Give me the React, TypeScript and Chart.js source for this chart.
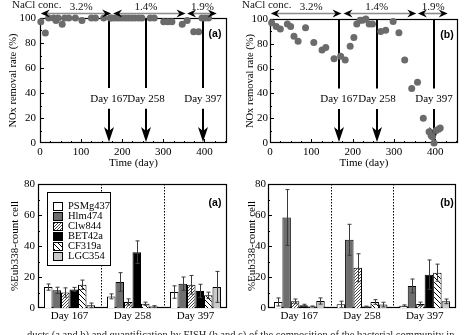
import React, { useEffect, useRef } from "react";
import { Chart, registerables } from "chart.js";
Chart.register(...registerables);

const SERIF = "'Liberation Serif', 'Times New Roman', serif";
const SANS = "'Liberation Sans', Arial, sans-serif";

// ---------- Top panels: NOx removal rate (%) vs time (day)
const daysA = [2, 13, 21, 33, 39, 44, 54, 60, 70, 86, 102, 125, 135, 155, 171, 175, 183, 191, 199, 207, 215, 223, 231, 240, 248, 268, 278, 301, 311, 321, 346, 358, 374, 386, 394, 402, 410];
const removalA = [97, 88, 100, 100, 98, 100, 95, 100, 100, 100, 98, 100, 100, 100, 100, 100, 100, 100, 100, 100, 100, 100, 100, 100, 100, 100, 100, 97, 97, 97, 95, 98, 89, 89, 100, 100, 100];
const daysB = [4, 15, 25, 42, 50, 58, 68, 86, 106, 126, 135, 155, 171, 182, 194, 203, 210, 218, 224, 232, 240, 248, 268, 280, 298, 312, 326, 343, 357, 371, 385, 390, 393, 397, 402, 408, 412];
const removalB = [97, 94, 92, 96, 94, 86, 82, 93, 81, 75, 77, 68, 70, 67, 78, 85, 96, 99, 99, 100, 96, 96, 90, 91, 98, 89, 67, 44, 49, 20, 9, 6, 5, 0, 10, 11, 12];

const phaseStart = [2, 178, 358];
const phaseEnd = [173, 354, 430];
const phaseLabels = ["3.2%", "1.4%", "1.9%"];
const phaseLabelDays = [100, 258, 395];
const sampleDays = [167, 258, 397];
const sampleLabels = ["Day 167", "Day 258", "Day 397"];

// ---------- Bottom panels: FISH quantification (%Eub338-count cell)
const probeNames = ["PSMg437", "Hlm474", "Clw844", "BET42a", "CF319a", "LGC354"];

const psmg437A = [13.5, 7.5, 10.3];
const hlm474A = [11.4, 16.8, 15.7];
const clw844A = [10, 3.9, 15];
const bet42aA = [12, 36, 11];
const cf319aA = [15, 2.8, 8.2];
const lgc354A = [1.7, 1, 13.6];
const psmg437AErr = [2, 1.6, 4];
const hlm474AErr = [2, 6, 4.3];
const clw844AErr = [3, 2, 6];
const bet42aAErr = [1.3, 7.3, 4.3];
const cf319aAErr = [3, 1, 2];
const lgc354AErr = [1.5, 0.5, 10];

const psmg437B = [3.9, 2.4, 1.5];
const hlm474B = [58.4, 44, 14.2];
const clw844B = [4.3, 26, 2.6];
const bet42aB = [1.7, 0.9, 21.5];
const cf319aB = [1, 3.9, 22.8];
const lgc354B = [4.5, 2.2, 4.3];
const psmg437BErr = [2.6, 2, 0.5];
const hlm474BErr = [18, 10, 4.5];
const clw844BErr = [1.5, 9, 1.2];
const bet42aBErr = [0.7, 0.3, 9.5];
const cf319aBErr = [0.3, 1.5, 5.5];
const lgc354BErr = [2, 1.5, 1.5];

// ---------- helpers
function hatch(dir: number, size: number, color: string, lw: number) {
  const c = document.createElement("canvas");
  c.width = size;
  c.height = size;
  const g = c.getContext("2d")!;
  g.fillStyle = "#fff";
  g.fillRect(0, 0, size, size);
  g.strokeStyle = color;
  g.lineWidth = lw;
  g.beginPath();
  if (dir > 0) {
    g.moveTo(0, size); g.lineTo(size, 0);
    g.moveTo(-2, 2); g.lineTo(2, -2);
    g.moveTo(size - 2, size + 2); g.lineTo(size + 2, size - 2);
  } else {
    g.moveTo(0, 0); g.lineTo(size, size);
    g.moveTo(-2, size - 2); g.lineTo(2, size + 2);
    g.moveTo(size - 2, -2); g.lineTo(size + 2, 2);
  }
  g.stroke();
  return g.createPattern(c, "repeat");
}

function hHead(ctx: CanvasRenderingContext2D, x: number, y: number, dir: number) {
  ctx.beginPath();
  ctx.moveTo(x, y);
  ctx.lineTo(x - dir * 9, y - 4);
  ctx.lineTo(x - dir * 6, y);
  ctx.lineTo(x - dir * 9, y + 4);
  ctx.closePath();
  ctx.fill();
}

function scatterDecor(p: { labelDx: number; naclX: number; panel: string }) {
  return {
    id: "scatterDecor",
    beforeDatasetsDraw(chart: any) {
      const { ctx, chartArea: a, scales } = chart;
      const xs = scales.x, ys = scales.y;
      ctx.save();
      ctx.strokeStyle = "#000";
      ctx.lineWidth = 1.2;
      ctx.strokeRect(a.left + 0.5, a.top + 0.5, a.right - a.left - 1, a.bottom - a.top - 1);
      ctx.lineWidth = 1;
      ctx.beginPath();
      for (let v = 10; v < 100; v += 10) {
        const y = Math.round(ys.getPixelForValue(v)) + 0.5;
        const len = v % 20 === 0 ? 4 : 2;
        ctx.moveTo(a.left, y); ctx.lineTo(a.left + len, y);
      }
      for (let d = 25; d <= 450; d += 25) {
        const x = Math.round(xs.getPixelForValue(d)) + 0.5;
        const len = d % 100 === 0 ? 4 : 2;
        ctx.moveTo(x, a.bottom); ctx.lineTo(x, a.bottom - len);
      }
      ctx.stroke();
      ctx.fillStyle = "#000";
      ctx.strokeStyle = "#000";
      ctx.lineWidth = 2;
      ctx.font = `11px ${SERIF}`;
      ctx.textAlign = "center";
      ctx.textBaseline = "middle";
      sampleDays.forEach((d, i) => {
        const x = Math.round(xs.getPixelForValue(d));
        ctx.beginPath();
        ctx.moveTo(x, a.top);
        ctx.lineTo(x, ys.getPixelForValue(44));
        ctx.stroke();
        ctx.fillText(sampleLabels[i], x, ys.getPixelForValue(35.5));
        const tip = a.bottom - 1;
        ctx.beginPath();
        ctx.moveTo(x, ys.getPixelForValue(27.5));
        ctx.lineTo(x, tip - 9);
        ctx.stroke();
        ctx.beginPath();
        ctx.moveTo(x, tip);
        ctx.lineTo(x - 5, tip - 15);
        ctx.lineTo(x, tip - 11);
        ctx.lineTo(x + 5, tip - 15);
        ctx.closePath();
        ctx.fill();
      });
      ctx.restore();
    },
    afterDraw(chart: any) {
      const { ctx, chartArea: a, scales } = chart;
      const xs = scales.x;
      ctx.save();
      ctx.fillStyle = "#111";
      ctx.font = `11px ${SERIF}`;
      ctx.textAlign = "left";
      ctx.textBaseline = "alphabetic";
      ctx.fillText("NaCl conc.", p.naclX, 8);
      ctx.textAlign = "center";
      phaseLabels.forEach((t, i) => {
        ctx.fillText(t, xs.getPixelForValue(phaseLabelDays[i]), 10);
      });
      const y = 13.5;
      phaseStart.forEach((s, i) => {
        const x1 = xs.getPixelForValue(s), x2 = xs.getPixelForValue(phaseEnd[i]);
        ctx.strokeStyle = "#8c8c8c";
        ctx.lineWidth = 1.6;
        ctx.beginPath();
        ctx.moveTo(x1 + 6, y); ctx.lineTo(x2 - 6, y);
        ctx.stroke();
        ctx.fillStyle = "#000";
        hHead(ctx, x1, y, -1);
        hHead(ctx, x2, y, 1);
      });
      ctx.fillStyle = "#000";
      ctx.font = `bold 10.5px ${SANS}`;
      ctx.textAlign = "center";
      ctx.textBaseline = "middle";
      ctx.fillText(p.panel, a.right - p.labelDx, a.top + 16);
      ctx.restore();
    },
  };
}

function scatterConfig(days: number[], values: number[], o: any) {
  const W = o.w, H = o.h;
  return {
    type: "scatter",
    data: {
      datasets: [{
        data: days.map((d, i) => ({ x: d, y: values[i] })),
        backgroundColor: "#6b6b6b",
        borderWidth: 0,
        pointRadius: 3.5,
        pointHoverRadius: 3.5,
        clip: false,
      }],
    },
    options: {
      responsive: false,
      animation: false,
      events: [],
      layout: { padding: { top: o.top, right: W - o.right, left: 0, bottom: 0 } },
      plugins: { legend: { display: false }, tooltip: { enabled: false } },
      scales: {
        x: {
          type: "linear", min: 0, max: 455,
          afterFit: (s: any) => { s.height = H - o.bottom; },
          grid: { display: false, drawTicks: false },
          border: { display: false },
          ticks: { stepSize: 100, includeBounds: false, padding: 3, maxRotation: 0, color: "#000", font: { family: SERIF, size: 11 } },
          title: { display: true, text: "Time (day)", color: "#000", font: { family: SERIF, size: 11 }, padding: 0 },
        },
        y: {
          min: 0, max: 100,
          afterFit: (s: any) => { s.width = o.left; },
          grid: { display: false, drawTicks: false },
          border: { display: false },
          ticks: { stepSize: 20, padding: o.tickPad, color: "#000", font: { family: SERIF, size: 11 } },
          title: { display: true, text: "NOx removal rate (%)", color: "#000", font: { family: SERIF, size: 10.5 }, padding: { top: o.titlePad, bottom: 0 } },
        },
      },
    },
    plugins: [scatterDecor({ labelDx: o.labelDx, naclX: o.left - 28, panel: o.panel })],
  };
}

function barDecor(p: { errs: number[][]; legend: boolean; panel: string; labelDx: number }) {
  return {
    id: "barDecor",
    beforeDatasetsDraw(chart: any) {
      const { ctx, chartArea: a, scales } = chart;
      const xs = scales.x, ys = scales.y;
      ctx.save();
      ctx.strokeStyle = "#000";
      ctx.lineWidth = 1.2;
      ctx.strokeRect(a.left + 0.5, a.top + 0.5, a.right - a.left - 1, a.bottom - a.top - 1);
      ctx.lineWidth = 1;
      ctx.beginPath();
      for (let v = 10; v < 80; v += 10) {
        const y = Math.round(ys.getPixelForValue(v)) + 0.5;
        const len = v % 20 === 0 ? 4 : 2;
        ctx.moveTo(a.left, y); ctx.lineTo(a.left + len, y);
      }
      ctx.stroke();
      ctx.setLineDash([1.5, 1.5]);
      ctx.beginPath();
      for (let i = 0; i < 2; i++) {
        const x = Math.round((xs.getPixelForValue(i) + xs.getPixelForValue(i + 1)) / 2) + 0.5;
        ctx.moveTo(x, a.top); ctx.lineTo(x, a.bottom);
      }
      ctx.stroke();
      ctx.restore();
    },
    afterDatasetsDraw(chart: any) {
      const { ctx, chartArea: a, scales } = chart;
      const ys = scales.y;
      ctx.save();
      ctx.strokeStyle = "#3a3a3a";
      ctx.lineWidth = 1;
      chart.data.datasets.forEach((ds: any, i: number) => {
        const meta = chart.getDatasetMeta(i);
        meta.data.forEach((el: any, j: number) => {
          const v = ds.data[j], e = p.errs[i][j];
          const x = Math.round(el.x) + 0.5;
          const y1 = ys.getPixelForValue(Math.max(0, v - e)), y2 = ys.getPixelForValue(v + e);
          ctx.beginPath();
          ctx.moveTo(x, y1); ctx.lineTo(x, y2);
          ctx.moveTo(x - 2, y1); ctx.lineTo(x + 2, y1);
          ctx.moveTo(x - 2, y2); ctx.lineTo(x + 2, y2);
          ctx.stroke();
        });
      });
      if (p.legend) {
        const bx = a.left + 9, by = a.top + 8, bw = 63, bh = 73;
        ctx.fillStyle = "#fff";
        ctx.fillRect(bx, by, bw, bh);
        ctx.strokeStyle = "#000";
        ctx.lineWidth = 1;
        ctx.strokeRect(bx + 0.5, by + 0.5, bw, bh);
        ctx.font = `10.5px ${SERIF}`;
        ctx.textAlign = "left";
        ctx.textBaseline = "middle";
        chart.data.datasets.forEach((ds: any, i: number) => {
          const y = by + 14 + i * 10;
          ctx.fillStyle = ds.backgroundColor;
          ctx.fillRect(bx + 6, y - 4, 9, 8);
          ctx.strokeRect(bx + 6.5, y - 3.5, 9, 8);
          ctx.fillStyle = "#000";
          ctx.fillText(ds.label, bx + 21, y + 0.5);
        });
      }
      ctx.fillStyle = "#000";
      ctx.font = `bold 10.5px ${SANS}`;
      ctx.textAlign = "center";
      ctx.textBaseline = "middle";
      ctx.fillText(p.panel, a.right - p.labelDx, a.top + 19);
      ctx.restore();
    },
  };
}

function barConfig(series: number[][], errs: number[][], fills: any[], o: any) {
  const W = o.w, H = o.h;
  return {
    type: "bar",
    data: {
      labels: sampleLabels,
      datasets: probeNames.map((n, i) => ({
        label: n,
        data: series[i],
        backgroundColor: fills[i],
        borderColor: "#000",
        borderWidth: 1,
        categoryPercentage: 0.81,
        barPercentage: 1,
      })),
    },
    options: {
      responsive: false,
      animation: false,
      events: [],
      layout: { padding: { top: o.top, right: W - o.right, left: 0, bottom: 0 } },
      plugins: { legend: { display: false }, tooltip: { enabled: false } },
      scales: {
        x: {
          afterFit: (s: any) => { s.height = H - o.bottom; },
          grid: { display: false, drawTicks: false },
          border: { display: false },
          ticks: { padding: 2, maxRotation: 0, color: "#000", font: { family: SERIF, size: 11 } },
        },
        y: {
          min: 0, max: 80,
          afterFit: (s: any) => { s.width = o.left; },
          grid: { display: false, drawTicks: false },
          border: { display: false },
          ticks: { stepSize: 20, padding: o.tickPad, color: "#000", font: { family: SERIF, size: 11 } },
          title: { display: true, text: "%Eub338-count cell", color: "#000", font: { family: SERIF, size: 11 }, padding: { top: 8.4, bottom: 0 } },
        },
      },
    },
    plugins: [barDecor({ errs, legend: o.legend, panel: o.panel, labelDx: o.labelDx })],
  };
}

export default function App() {
  const r1 = useRef<HTMLCanvasElement>(null);
  const r2 = useRef<HTMLCanvasElement>(null);
  const r3 = useRef<HTMLCanvasElement>(null);
  const r4 = useRef<HTMLCanvasElement>(null);

  useEffect(() => {
    const slash = hatch(1, 3, "#333", 0.9);
    const back = hatch(-1, 5, "#000", 1);
    const fills = ["#ffffff", "#6e6e6e", slash, "#000000", back, "#c9c9c9"];
    const seriesA = [psmg437A, hlm474A, clw844A, bet42aA, cf319aA, lgc354A];
    const errsA = [psmg437AErr, hlm474AErr, clw844AErr, bet42aAErr, cf319aAErr, lgc354AErr];
    const seriesB = [psmg437B, hlm474B, clw844B, bet42aB, cf319aB, lgc354B];
    const errsB = [psmg437BErr, hlm474BErr, clw844BErr, bet42aBErr, cf319aBErr, lgc354BErr];

    const charts = [
      new Chart(r1.current!, scatterConfig(daysA, removalA, { w: 237, h: 170, left: 40, right: 227, top: 18, bottom: 143, tickPad: 4, titlePad: 7, labelDx: 12, panel: "(a)" }) as any),
      new Chart(r2.current!, scatterConfig(daysB, removalB, { w: 237, h: 170, left: 33, right: 221, top: 19, bottom: 143, tickPad: 2, titlePad: 7, labelDx: 11, panel: "(b)" }) as any),
      new Chart(r3.current!, barConfig(seriesA, errsA, fills, { w: 237, h: 165, left: 38, right: 227, top: 14, bottom: 138, tickPad: 3, legend: true, panel: "(a)", labelDx: 12 }) as any),
      new Chart(r4.current!, barConfig(seriesB, errsB, fills, { w: 237, h: 165, left: 31, right: 219, top: 14, bottom: 138, tickPad: 2, legend: false, panel: "(b)", labelDx: 9 }) as any),
    ];
    return () => charts.forEach((c) => c.destroy());
  }, []);

  const cs = (l: number, t: number, h: number): React.CSSProperties => ({ position: "absolute", left: l, top: t, width: 237, height: h });

  return (
    <div style={{ position: "fixed", left: 0, top: 0, width: 474, height: 335, background: "#fff", overflow: "hidden" }}>
      <canvas ref={r1} width={237} height={170} style={cs(0, 0, 170)} />
      <canvas ref={r2} width={237} height={170} style={cs(237, 0, 170)} />
      <canvas ref={r3} width={237} height={165} style={cs(0, 170, 165)} />
      <canvas ref={r4} width={237} height={165} style={cs(237, 170, 165)} />
      <div style={{ position: "absolute", left: 27, top: 329, fontFamily: SERIF, fontSize: 10.5, whiteSpace: "nowrap", color: "#222" }}>
        ducts (a and b) and quantification by FISH (b and c) of the composition of the bacterial community in
      </div>
    </div>
  );
}
